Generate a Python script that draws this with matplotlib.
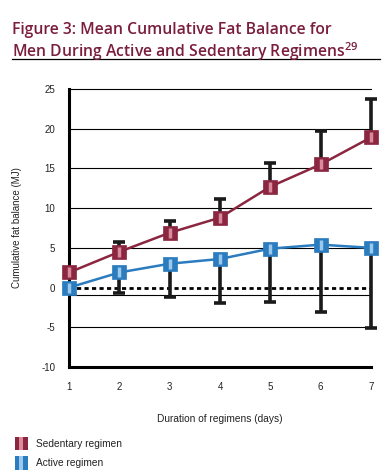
import numpy as np
import matplotlib
matplotlib.use('Agg')
import matplotlib.pyplot as plt
from matplotlib.patches import Rectangle
from matplotlib.lines import Line2D

plt.rcParams['font.family'] = ['Liberation Sans', 'DejaVu Sans']
plt.rcParams['axes.unicode_minus'] = False

# data
days = [1, 2, 3, 4, 5, 6, 7]
sedentary = [1.9, 4.5, 6.9, 8.8, 12.7, 15.5, 18.9]
sedentary_upper = [0.0, 1.2, 1.5, 2.4, 3.0, 4.2, 4.9]
active = [0.0, 1.9, 3.0, 3.6, 4.9, 5.4, 5.0]
active_lower = [0.0, 2.6, 4.2, 5.5, 6.7, 8.5, 10.1]
yticks = [25, 20, 15, 10, 5, 0, -5, -10]
grid_levels = [25, 20, 15, 10, 5, -1, -5]

RED = '#8a2640'
RED_LIGHT = '#d98a9c'
BLUE = '#2b7bbf'
BLUE_LIGHT = '#9cc8ec'
TITLE_COLOR = '#7a1e3e'

fig = plt.figure(figsize=(3.84, 4.72), dpi=100)
fig.patch.set_facecolor('white')

# title
title_font = dict(fontsize=11.3, fontweight='semibold', color=TITLE_COLOR,
                  family=['Open Sans', 'DejaVu Sans'], va='top')
fig.text(0.031, 0.954, 'Figure 3: Mean Cumulative Fat Balance for', **title_font)
fig.text(0.031, 0.915, r'Men During Active and Sedentary Regimens$^{\mathregular{29}}$',
         **title_font)
fig.add_artist(Line2D([0.031, 0.99], [0.875, 0.875], color='black', lw=0.9))

ax = fig.add_axes([0.18, 0.2225, 0.786, 0.589])
ax.set_xlim(1, 7)
ax.set_ylim(-10, 25)

for g in grid_levels:
    ax.axhline(g, color='black', lw=0.8, zorder=1, clip_on=False)

ax.axhline(0, color='black', lw=2, ls=(0, (1.5, 1.2)), zorder=2)

# error bars
ax.errorbar(days[1:], sedentary[1:],
            yerr=[np.zeros(6), sedentary_upper[1:]],
            fmt='none', ecolor='#1a1a1a', elinewidth=2.6, capsize=4,
            capthick=2.6, zorder=3, clip_on=False)
ax.errorbar(days[1:], active[1:],
            yerr=[active_lower[1:], np.zeros(6)],
            fmt='none', ecolor='#1a1a1a', elinewidth=2.6, capsize=4,
            capthick=2.6, zorder=3, clip_on=False)

# series
ax.plot(days, sedentary, color=RED, lw=1.8, zorder=4, clip_on=False)
ax.plot(days, sedentary, ls='none', marker='s', ms=9.5, mfc=RED, mec=RED,
        mew=0.5, zorder=5, clip_on=False)
ax.plot(days, sedentary, ls='none', marker='|', ms=7.5, mew=2.5,
        color=RED_LIGHT, zorder=6, clip_on=False)
ax.plot(days, active, color=BLUE, lw=1.8, zorder=4, clip_on=False)
ax.plot(days, active, ls='none', marker='s', ms=9.5, mfc=BLUE, mec=BLUE,
        mew=0.5, zorder=5, clip_on=False)
ax.plot(days, active, ls='none', marker='|', ms=7.5, mew=2.5,
        color=BLUE_LIGHT, zorder=6, clip_on=False)

ax.set_xticks(days)
ax.set_yticks(yticks)
ax.tick_params(length=0, labelsize=7, pad=10, colors='#222222')
ax.tick_params(axis='x', pad=11)
for s in ['top', 'right']:
    ax.spines[s].set_visible(False)
for s in ['left', 'bottom']:
    ax.spines[s].set_linewidth(2.2)
ax.set_ylabel('Cumulative fat balance (MJ)', fontsize=7, color='#222222')
ax.yaxis.set_label_coords(-0.155, 0.5)
ax.set_xlabel('Duration of regimens (days)', fontsize=7.3, color='#222222')
ax.xaxis.set_label_coords(0.5, -0.168)

# legend
for y, col, light, lab in [(0.046, RED, RED_LIGHT, 'Sedentary regimen'),
                           (0.005, BLUE, BLUE_LIGHT, 'Active regimen')]:
    fig.add_artist(Rectangle((0.039, y), 0.033, 0.028, facecolor=col,
                             edgecolor='none'))
    fig.add_artist(Rectangle((0.050, y), 0.011, 0.028, facecolor=light,
                             edgecolor='none'))
    fig.text(0.094, y + 0.014, lab, fontsize=7.3, va='center', color='#222222')

fig.savefig('out.png', dpi=100, facecolor='white')
